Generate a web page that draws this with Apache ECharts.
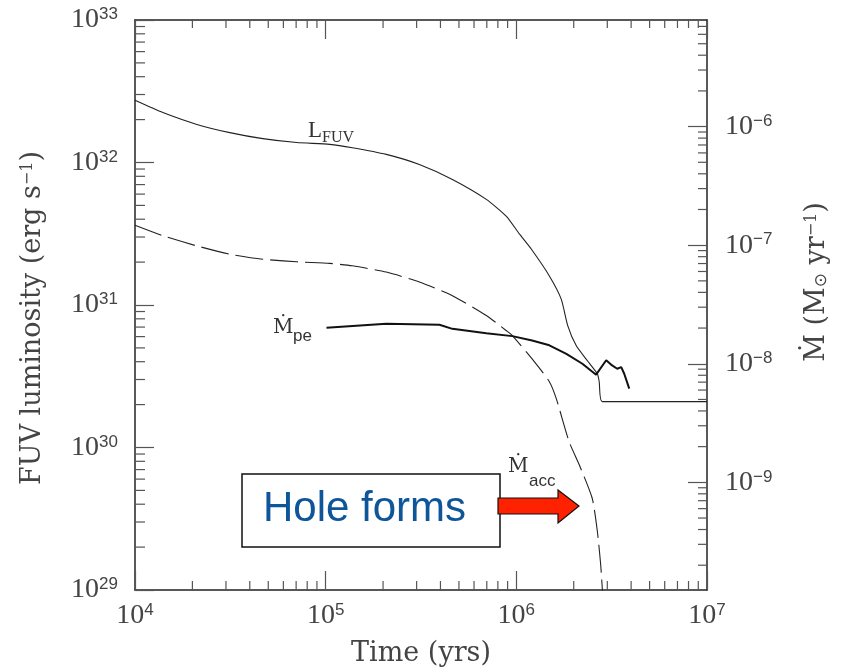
<!DOCTYPE html>
<html>
<head>
<meta charset="utf-8">
<script src="https://cdn.jsdelivr.net/npm/echarts@6/dist/echarts.min.js"></script>
<style>
  html, body { margin: 0; padding: 0; background: #fff; }
  #chart { width: 842px; height: 672px; }
</style>
</head>
<body>
<div id="chart"></div>
<script>
// axis ranges
var timeRange = [1e4, 1e7];
var lumRange = [1e29, 1e33];
var mdotRange = [1.236e-10, 7.925e-6];

// L_FUV (erg s^-1), left axis
var lfuvTime = [1.00e4, 1.40e4, 2.11e4, 3.14e4, 4.68e4, 7.05e4, 1.05e5, 1.38e5, 2.08e5, 3.10e5,
  4.62e5, 6.96e5, 8.87e5, 1.04e6, 1.20e6, 1.49e6, 1.72e6, 1.86e6, 2.06e6, 2.36e6,
  2.66e6, 2.72e6, 2.82e6, 1.00e7];
var lfuvValue = [2.73e32, 2.24e32, 1.85e32, 1.62e32, 1.47e32, 1.38e32, 1.34e32, 1.27e32, 1.14e32, 9.68e31,
  7.60e31, 5.51e31, 4.19e31, 3.14e31, 2.46e31, 1.60e31, 1.10e31, 7.17e30, 5.19e30, 4.06e30,
  3.29e30, 2.90e30, 2.10e30, 2.10e30];

// Mdot_acc (Msun/yr), right axis, dashed
var accTime = [1.00e4, 1.40e4, 2.11e4, 3.14e4, 4.68e4, 7.05e4, 1.05e5, 1.38e5, 2.08e5, 3.10e5,
  4.62e5, 6.96e5, 8.87e5, 9.53e5, 1.21e6, 1.49e6, 1.62e6, 1.89e6, 2.14e6, 2.50e6,
  2.66e6, 2.77e6, 2.85e6];
var accValue = [1.47e-7, 1.20e-7, 9.86e-8, 8.40e-8, 7.62e-8, 7.24e-8, 7.02e-8, 6.70e-8, 5.93e-8, 4.89e-8,
  3.75e-8, 2.55e-8, 1.90e-8, 1.73e-8, 1.10e-8, 7.06e-9, 5.08e-9, 2.21e-9, 1.40e-9, 7.34e-10,
  3.87e-10, 2.02e-10, 1.0e-10];

// Mdot_pe (Msun/yr), right axis, thick
var peTime = [1.01e5, 2.08e5, 3.95e5, 4.62e5, 6.96e5, 9.53e5, 1.21e6, 1.49e6, 1.83e6, 2.22e6,
  2.62e6, 2.96e6, 3.18e6, 3.38e6, 3.55e6, 3.68e6, 3.91e6];
var peValue = [2.01e-8, 2.17e-8, 2.13e-8, 1.97e-8, 1.81e-8, 1.71e-8, 1.57e-8, 1.43e-8, 1.21e-8, 1.00e-8,
  8.09e-9, 1.07e-8, 9.68e-9, 9.08e-9, 9.38e-9, 8.24e-9, 6.17e-9];

// minor tick values (2..9 x each decade)
var minorSteps = [2, 3, 4, 5, 6, 7, 8, 9];
function minorTicks(range) {
  var out = [];
  var lo = Math.floor(Math.log10(range[0])), hi = Math.ceil(Math.log10(range[1]));
  for (var k = lo; k < hi; k++) {
    minorSteps.forEach(function (m) {
      var v = m * Math.pow(10, k);
      if (v > range[0] && v < range[1]) out.push(v);
    });
  }
  return out;
}
var timeMinor = minorTicks(timeRange);
var lumMinor = minorTicks(lumRange);
var mdotMinor = minorTicks(mdotRange);

function zip(a, b) { return a.map(function (v, i) { return [v, b[i]]; }); }

var labelRich = {
  b: { fontFamily: 'Liberation Serif', fontSize: 28, color: '#444' },
  s: { fontFamily: 'Liberation Sans', fontSize: 17, color: '#444', verticalAlign: 'top' }
};
function expLabel(v) {
  var e = Math.round(Math.log10(v));
  return '{b|10}{s|' + String(e).replace('-', '\u2212') + '}';
}

var axisLine = { show: true, lineStyle: { color: '#222', width: 1.5 } };
var majorTick = { show: true, inside: true, length: 19, lineStyle: { color: '#555', width: 1.2 } };

function tickRenderer(dx, dy) {
  return function (params, api) {
    var p = api.coord([api.value(0), api.value(1)]);
    return {
      type: 'line',
      shape: { x1: p[0], y1: p[1], x2: p[0] + dx, y2: p[1] + dy },
      style: { stroke: '#555', lineWidth: 1.2 }
    };
  };
}

var chart = echarts.init(document.getElementById('chart'));
var option = {
  animation: false,
  backgroundColor: '#fff',
  grid: { left: 135, right: 135, top: 20, bottom: 80 },
  xAxis: [
    {
      type: 'log', logBase: 10, min: timeRange[0], max: timeRange[1], position: 'bottom',
      axisLine: axisLine, axisTick: majorTick, splitLine: { show: false },
      axisLabel: { formatter: expLabel, rich: labelRich, margin: 12 },
      name: 'Time (yrs)', nameLocation: 'middle', nameGap: 50,
      nameTextStyle: { fontFamily: 'DejaVu Serif', fontSize: 27, color: '#444' }
    },
    {
      type: 'log', logBase: 10, min: timeRange[0], max: timeRange[1], position: 'top',
      axisLine: axisLine, axisTick: majorTick, splitLine: { show: false },
      axisLabel: { show: false }
    }
  ],
  yAxis: [
    {
      type: 'log', logBase: 10, min: lumRange[0], max: lumRange[1], position: 'left',
      axisLine: axisLine, axisTick: majorTick, splitLine: { show: false },
      axisLabel: { formatter: expLabel, rich: labelRich, margin: 17 }
    },
    {
      type: 'log', logBase: 10, min: mdotRange[0], max: mdotRange[1], position: 'right',
      axisLine: axisLine, axisTick: majorTick, splitLine: { show: false },
      axisLabel: { formatter: expLabel, rich: labelRich, margin: 18, showMinLabel: false, showMaxLabel: false }
    }
  ],
  series: [
    {
      name: 'L_FUV', type: 'line', xAxisIndex: 0, yAxisIndex: 0,
      data: zip(lfuvTime, lfuvValue), showSymbol: false, symbol: 'none',
      smooth: 0.2,
      lineStyle: { color: '#222', width: 1.1 }
    },
    {
      name: 'Mdot_acc', type: 'line', xAxisIndex: 0, yAxisIndex: 1,
      data: zip(accTime, accValue), showSymbol: false, symbol: 'none',
      smooth: 0.2,
      lineStyle: { color: '#222', width: 1.1, type: [28, 7] }
    },
    {
      name: 'Mdot_pe', type: 'line', xAxisIndex: 0, yAxisIndex: 1,
      data: zip(peTime, peValue), showSymbol: false, symbol: 'none',
      lineStyle: { color: '#111', width: 2 }
    },
    {
      type: 'custom', xAxisIndex: 0, yAxisIndex: 0, silent: true,
      data: lumMinor.map(function (v) { return [timeRange[0], v]; }),
      renderItem: tickRenderer(10, 0)
    },
    {
      type: 'custom', xAxisIndex: 0, yAxisIndex: 1, silent: true,
      data: mdotMinor.map(function (v) { return [timeRange[1], v]; }),
      renderItem: tickRenderer(-9, 0)
    },
    {
      type: 'custom', xAxisIndex: 0, yAxisIndex: 0, silent: true,
      data: timeMinor.map(function (v) { return [v, lumRange[0]]; }),
      renderItem: tickRenderer(0, -9)
    },
    {
      type: 'custom', xAxisIndex: 0, yAxisIndex: 0, silent: true,
      data: timeMinor.map(function (v) { return [v, lumRange[1]]; }),
      renderItem: tickRenderer(0, 8)
    }
  ],
  graphic: [
    {
      type: 'text', x: 33, y: 318, rotation: Math.PI / 2,
      style: {
        text: '{t|FUV luminosity (erg s}{p|\u22121}{t|)}', align: 'center', verticalAlign: 'middle',
        rich: {
          t: { fontFamily: 'DejaVu Serif', fontSize: 27, fill: '#444' },
          p: { fontFamily: 'DejaVu Serif', fontSize: 16, fill: '#444', verticalAlign: 'top' }
        }
      }
    },
    {
      type: 'text', x: 817, y: 282, rotation: Math.PI / 2,
      style: {
        text: '{t|\u1E40 (M}{d|\u2299}{t| yr}{p|\u22121}{t|)}', align: 'center', verticalAlign: 'middle',
        rich: {
          t: { fontFamily: 'DejaVu Serif', fontSize: 27, fill: '#444' },
          d: { fontFamily: 'DejaVu Sans', fontSize: 17, fill: '#444', verticalAlign: 'bottom' },
          p: { fontFamily: 'DejaVu Serif', fontSize: 16, fill: '#444', verticalAlign: 'top' }
        }
      }
    },
    // curve labels
    { type: 'text', x: 308, y: 131, style: { text: 'L', font: '23px "Liberation Serif"', fill: '#333', verticalAlign: 'middle' } },
    { type: 'text', x: 322, y: 138, style: { text: 'FUV', font: '16px "Liberation Serif"', fill: '#333', verticalAlign: 'middle' } },
    { type: 'text', x: 273, y: 328, style: { text: '\u1E40', font: '20px "DejaVu Serif"', fill: '#333', verticalAlign: 'middle' } },
    { type: 'text', x: 293, y: 336, style: { text: 'pe', font: '17px "Liberation Sans"', fill: '#333', verticalAlign: 'middle' } },
    { type: 'text', x: 508, y: 467, style: { text: '\u1E40', font: '20px "DejaVu Serif"', fill: '#333', verticalAlign: 'middle' } },
    { type: 'text', x: 529, y: 481, style: { text: 'acc', font: '17px "Liberation Sans"', fill: '#333', verticalAlign: 'middle' } },
    // annotation box and arrow
    {
      type: 'rect', shape: { x: 242, y: 474, width: 258, height: 73 },
      style: { fill: '#fff', stroke: '#111', lineWidth: 1.5 }, z: 10
    },
    {
      type: 'text', x: 263, y: 509, z: 11,
      style: { text: 'Hole forms', font: '42px "Liberation Sans"', fill: '#0e5699', verticalAlign: 'middle' }
    },
    {
      type: 'polygon', z: 12,
      shape: { points: [[498, 498], [558, 498], [558, 490], [579, 506], [558, 523], [558, 514], [498, 514]] },
      style: { fill: '#ff2200', stroke: '#111', lineWidth: 1.2 }
    }
  ]
};
chart.setOption(option);
</script>
</body>
</html>
